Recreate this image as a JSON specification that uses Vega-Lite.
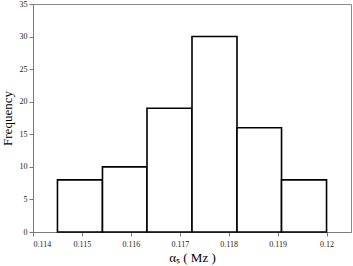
{
  "$schema": "https://vega.github.io/schema/vega-lite/v6.json",
  "autosize": {"type": "none"},
  "padding": {"left": 33, "top": 4, "right": 2, "bottom": 34},
  "width": 318,
  "height": 228,
  "background": "white",
  "config": {
    "view": {"stroke": "#8a8a8a", "strokeWidth": 1},
    "axis": {
      "grid": false,
      "domainColor": "#7a7a7a",
      "tickColor": "#7a7a7a",
      "labelFont": "Liberation Serif",
      "titleFont": "Liberation Serif",
      "labelColor": "#222",
      "titleColor": "#000",
      "labelFontSize": 8,
      "titleFontSize": 13,
      "titleFontWeight": "normal",
      "tickSize": 4
    }
  },
  "data": {
    "values": [
      {"lo": 0.1145, "hi": 0.11542, "count": 8},
      {"lo": 0.11542, "hi": 0.11633, "count": 10},
      {"lo": 0.11633, "hi": 0.11725, "count": 19},
      {"lo": 0.11725, "hi": 0.11817, "count": 30},
      {"lo": 0.11817, "hi": 0.11908, "count": 16},
      {"lo": 0.11908, "hi": 0.12, "count": 8}
    ]
  },
  "mark": {"type": "bar", "fill": "white", "stroke": "black", "strokeWidth": 1.6, "cornerRadius": 0},
  "encoding": {
    "x": {
      "field": "lo",
      "type": "quantitative",
      "scale": {"domain": [0.114, 0.1205], "nice": false, "zero": false},
      "axis": {
        "values": [0.114, 0.115, 0.116, 0.117, 0.118, 0.119, 0.12],
        "format": ".3~f",
        "title": "αₛ ( Mᴢ )",
        "labelPadding": 4,
        "titlePadding": 3
      }
    },
    "x2": {"field": "hi"},
    "y": {
      "field": "count",
      "type": "quantitative",
      "scale": {"domain": [0, 35], "nice": false},
      "axis": {
        "values": [0, 5, 10, 15, 20, 25, 30, 35],
        "title": "Frequency",
        "labelPadding": 2,
        "titlePadding": 5
      }
    },
    "y2": {"datum": 0}
  }
}
